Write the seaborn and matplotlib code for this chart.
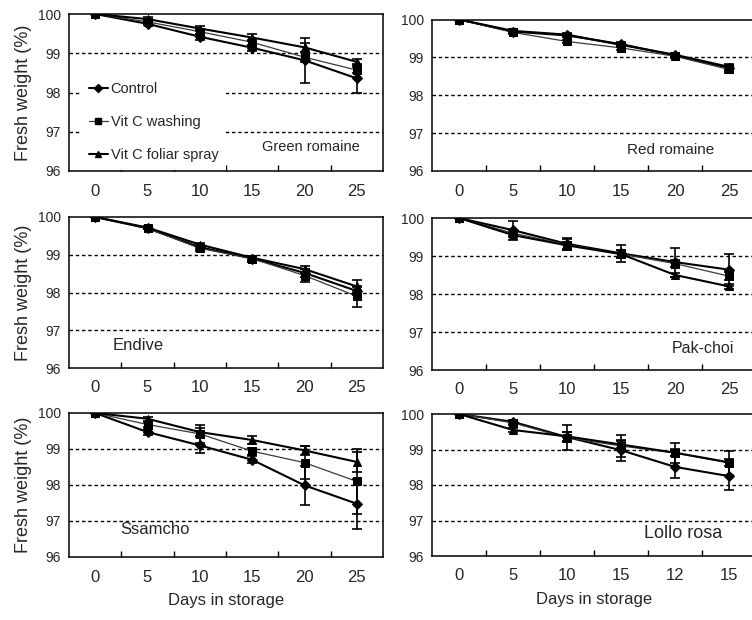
import numpy as np
import pandas as pd
import matplotlib
matplotlib.use("Agg")
import matplotlib.pyplot as plt
from matplotlib.lines import Line2D
import seaborn as sns

sns.set_theme(style="white")
plt.rcParams['font.family'] = ['Liberation Sans', 'DejaVu Sans']
NARROW = ['Liberation Sans Narrow', 'Liberation Sans', 'DejaVu Sans']

# ---------------- data ----------------
treatments = ["Control", "Vit C washing", "Vit C foliar spray"]
day_labels = ["0", "5", "10", "15", "20", "25"]
day_labels_lollo = ["0", "5", "10", "15", "12", "15"]

gr_control = [100, 99.75, 99.42, 99.14, 98.82, 98.36]
gr_wash    = [100, 99.80, 99.55, 99.28, 98.90, 98.57]
gr_foliar  = [100, 99.87, 99.63, 99.40, 99.15, 98.78]
gr_err_control = [0, 0.04, 0.08, 0.08, 0.57, 0.36]
gr_err_wash    = [0, 0.04, 0.06, 0.06, 0.12, 0.08]
gr_err_foliar  = [0, 0.05, 0.07, 0.08, 0.12, 0.07]

rr_control = [100, 99.68, 99.58, 99.35, 99.05, 98.72]
rr_wash    = [100, 99.66, 99.42, 99.25, 99.03, 98.68]
rr_foliar  = [100, 99.70, 99.60, 99.33, 99.07, 98.75]
rr_err_control = [0, 0.04, 0.05, 0.05, 0.05, 0.08]
rr_err_wash    = [0, 0.04, 0.05, 0.05, 0.05, 0.08]
rr_err_foliar  = [0, 0.04, 0.05, 0.05, 0.05, 0.08]

en_control = [100, 99.70, 99.20, 98.90, 98.52, 98.04]
en_wash    = [100, 99.70, 99.17, 98.90, 98.45, 97.90]
en_foliar  = [100, 99.72, 99.27, 98.92, 98.62, 98.16]
en_err_control = [0, 0.03, 0.05, 0.08, 0.10, 0.10]
en_err_wash    = [0, 0.03, 0.06, 0.08, 0.17, 0.28]
en_err_foliar  = [0, 0.03, 0.05, 0.06, 0.08, 0.17]

pc_control = [100, 99.68, 99.32, 99.07, 98.84, 98.64]
pc_wash    = [100, 99.60, 99.30, 99.05, 98.80, 98.47]
pc_foliar  = [100, 99.55, 99.28, 99.05, 98.50, 98.20]
pc_err_control = [0, 0.25, 0.16, 0.22, 0.38, 0.42]
pc_err_wash    = [0, 0.08, 0.15, 0.10, 0.10, 0.10]
pc_err_foliar  = [0, 0.06, 0.10, 0.10, 0.06, 0.06]

ss_control = [100, 99.47, 99.10, 98.70, 97.99, 97.48]
ss_wash    = [100, 99.68, 99.42, 98.94, 98.62, 98.10]
ss_foliar  = [100, 99.84, 99.47, 99.25, 98.96, 98.64]
ss_err_control = [0, 0.08, 0.22, 0.10, 0.55, 0.70]
ss_err_wash    = [0, 0.08, 0.25, 0.10, 0.45, 0.90]
ss_err_foliar  = [0, 0.06, 0.10, 0.10, 0.12, 0.28]

lr_control = [100, 99.78, 99.35, 98.98, 98.51, 98.25]
lr_wash    = [100, 99.75, 99.33, 99.10, 98.90, 98.62]
lr_foliar  = [100, 99.55, 99.37, 99.14, 98.91, 98.64]
lr_err_control = [0, 0.06, 0.15, 0.30, 0.30, 0.40]
lr_err_wash    = [0, 0.06, 0.35, 0.30, 0.28, 0.35]
lr_err_foliar  = [0, 0.05, 0.12, 0.10, 0.10, 0.10]

panels = [
    dict(name="Green romaine", vals=[gr_control, gr_wash, gr_foliar],
         errs=[gr_err_control, gr_err_wash, gr_err_foliar], labels=day_labels,
         rect=[69, 14, 383, 171], title_xy=(0.77, 0.15), tfs=10.5, legend=True,
         ylabel=True, xlabel=False),
    dict(name="Red romaine", vals=[rr_control, rr_wash, rr_foliar],
         errs=[rr_err_control, rr_err_wash, rr_err_foliar], labels=day_labels,
         rect=[432, 19.5, 756, 171], title_xy=(0.735, 0.14), tfs=11, legend=False,
         ylabel=False, xlabel=False),
    dict(name="Endive", vals=[en_control, en_wash, en_foliar],
         errs=[en_err_control, en_err_wash, en_err_foliar], labels=day_labels,
         rect=[69, 217, 383, 368], title_xy=(0.22, 0.15), tfs=12, legend=False,
         ylabel=True, xlabel=False),
    dict(name="Pak-choi", vals=[pc_control, pc_wash, pc_foliar],
         errs=[pc_err_control, pc_err_wash, pc_err_foliar], labels=day_labels,
         rect=[432, 218, 756, 370], title_xy=(0.836, 0.14), tfs=11.5, legend=False,
         ylabel=False, xlabel=False),
    dict(name="Ssamcho", vals=[ss_control, ss_wash, ss_foliar],
         errs=[ss_err_control, ss_err_wash, ss_err_foliar], labels=day_labels,
         rect=[69, 413, 383, 557], title_xy=(0.274, 0.19), tfs=12, legend=False,
         ylabel=True, xlabel=True),
    dict(name="Lollo rosa", vals=[lr_control, lr_wash, lr_foliar],
         errs=[lr_err_control, lr_err_wash, lr_err_foliar], labels=day_labels_lollo,
         rect=[432, 414, 756, 556], title_xy=(0.775, 0.155), tfs=13, legend=False,
         ylabel=False, xlabel=True),
]

W, H = 752, 620
fig = plt.figure(figsize=(W / 100, H / 100), dpi=100)
fig.patch.set_facecolor("white")

markers = {"Control": "D", "Vit C washing": "s", "Vit C foliar spray": "^"}
palette = {"Control": "black", "Vit C washing": "#3a3a3a", "Vit C foliar spray": "black"}
lws = {"Control": 1.5, "Vit C washing": 0.9, "Vit C foliar spray": 1.5}
msizes = {"Control": 5, "Vit C washing": 5.5, "Vit C foliar spray": 6}

for p in panels:
    x0, y0, x1, y1 = p["rect"]
    ax = fig.add_axes([x0 / W, 1 - y1 / H, (x1 - x0) / W, (y1 - y0) / H])
    rows = []
    for t, v in zip(treatments, p["vals"]):
        for i, val in enumerate(v):
            rows.append({"pos": i, "weight": val, "treatment": t})
    df = pd.DataFrame(rows)
    for t, v, e in zip(treatments, p["vals"], p["errs"]):
        sub = df[df["treatment"] == t]
        sns.lineplot(data=sub, x="pos", y="weight", ax=ax, color=palette[t],
                     marker=markers[t], markersize=msizes[t], markeredgecolor="black",
                     markerfacecolor="black", linewidth=lws[t], legend=False,
                     errorbar=None, zorder=3)
        ax.errorbar(np.arange(len(v)), v, yerr=e, fmt="none", ecolor="black",
                    elinewidth=1.2, capsize=3.5, capthick=1.2, zorder=4)

    ax.set_xlim(-0.5, 5.5)
    ax.set_ylim(96, 100)
    ax.set_yticks([96, 97, 98, 99, 100])
    ax.set_yticklabels(["96", "97", "98", "99", "100"], family=NARROW, fontsize=10)
    ax.set_xticks(range(6))
    ax.set_xticklabels(p["labels"], family=NARROW, fontsize=12)
    ax.set_xticks(np.arange(0.5, 5.0, 1.0), minor=True)
    ax.tick_params(axis="x", which="major", length=0, pad=9)
    ax.tick_params(axis="x", which="minor", length=4, width=1, direction="in",
                   color="black", bottom=True)
    ax.tick_params(axis="y", length=0, pad=6)
    for yy in [97, 98, 99]:
        ax.axhline(yy, color="black", linewidth=1.0, linestyle=(0, (2.5, 2)), zorder=1)
    for s in ax.spines.values():
        s.set_visible(True)
        s.set_color("black")
        s.set_linewidth(1.1)
    ax.set_xlabel("Days in storage" if p["xlabel"] else "", fontsize=12, labelpad=6)
    ax.set_ylabel("Fresh weight (%)" if p["ylabel"] else "", fontsize=13, labelpad=4)
    ax.text(p["title_xy"][0], p["title_xy"][1], p["name"], transform=ax.transAxes,
            ha="center", va="center", fontsize=p["tfs"], zorder=6)
    if p["legend"]:
        handles = [Line2D([0], [0], color=palette[t], linewidth=lws[t], marker=markers[t],
                          markersize=msizes[t] - 1, markerfacecolor="black",
                          markeredgecolor="black") for t in treatments]
        leg = ax.legend(handles, treatments, loc="lower left", bbox_to_anchor=(0.035, 0.0),
                        fontsize=10.5, frameon=True, fancybox=False, framealpha=1,
                        facecolor="white", edgecolor="none", handlelength=1.3,
                        handletextpad=0.2, labelspacing=1.3, borderpad=0.5,
                        borderaxespad=0.1)
        leg.set_zorder(5)

fig.savefig("out.png", dpi=100, facecolor="white")
